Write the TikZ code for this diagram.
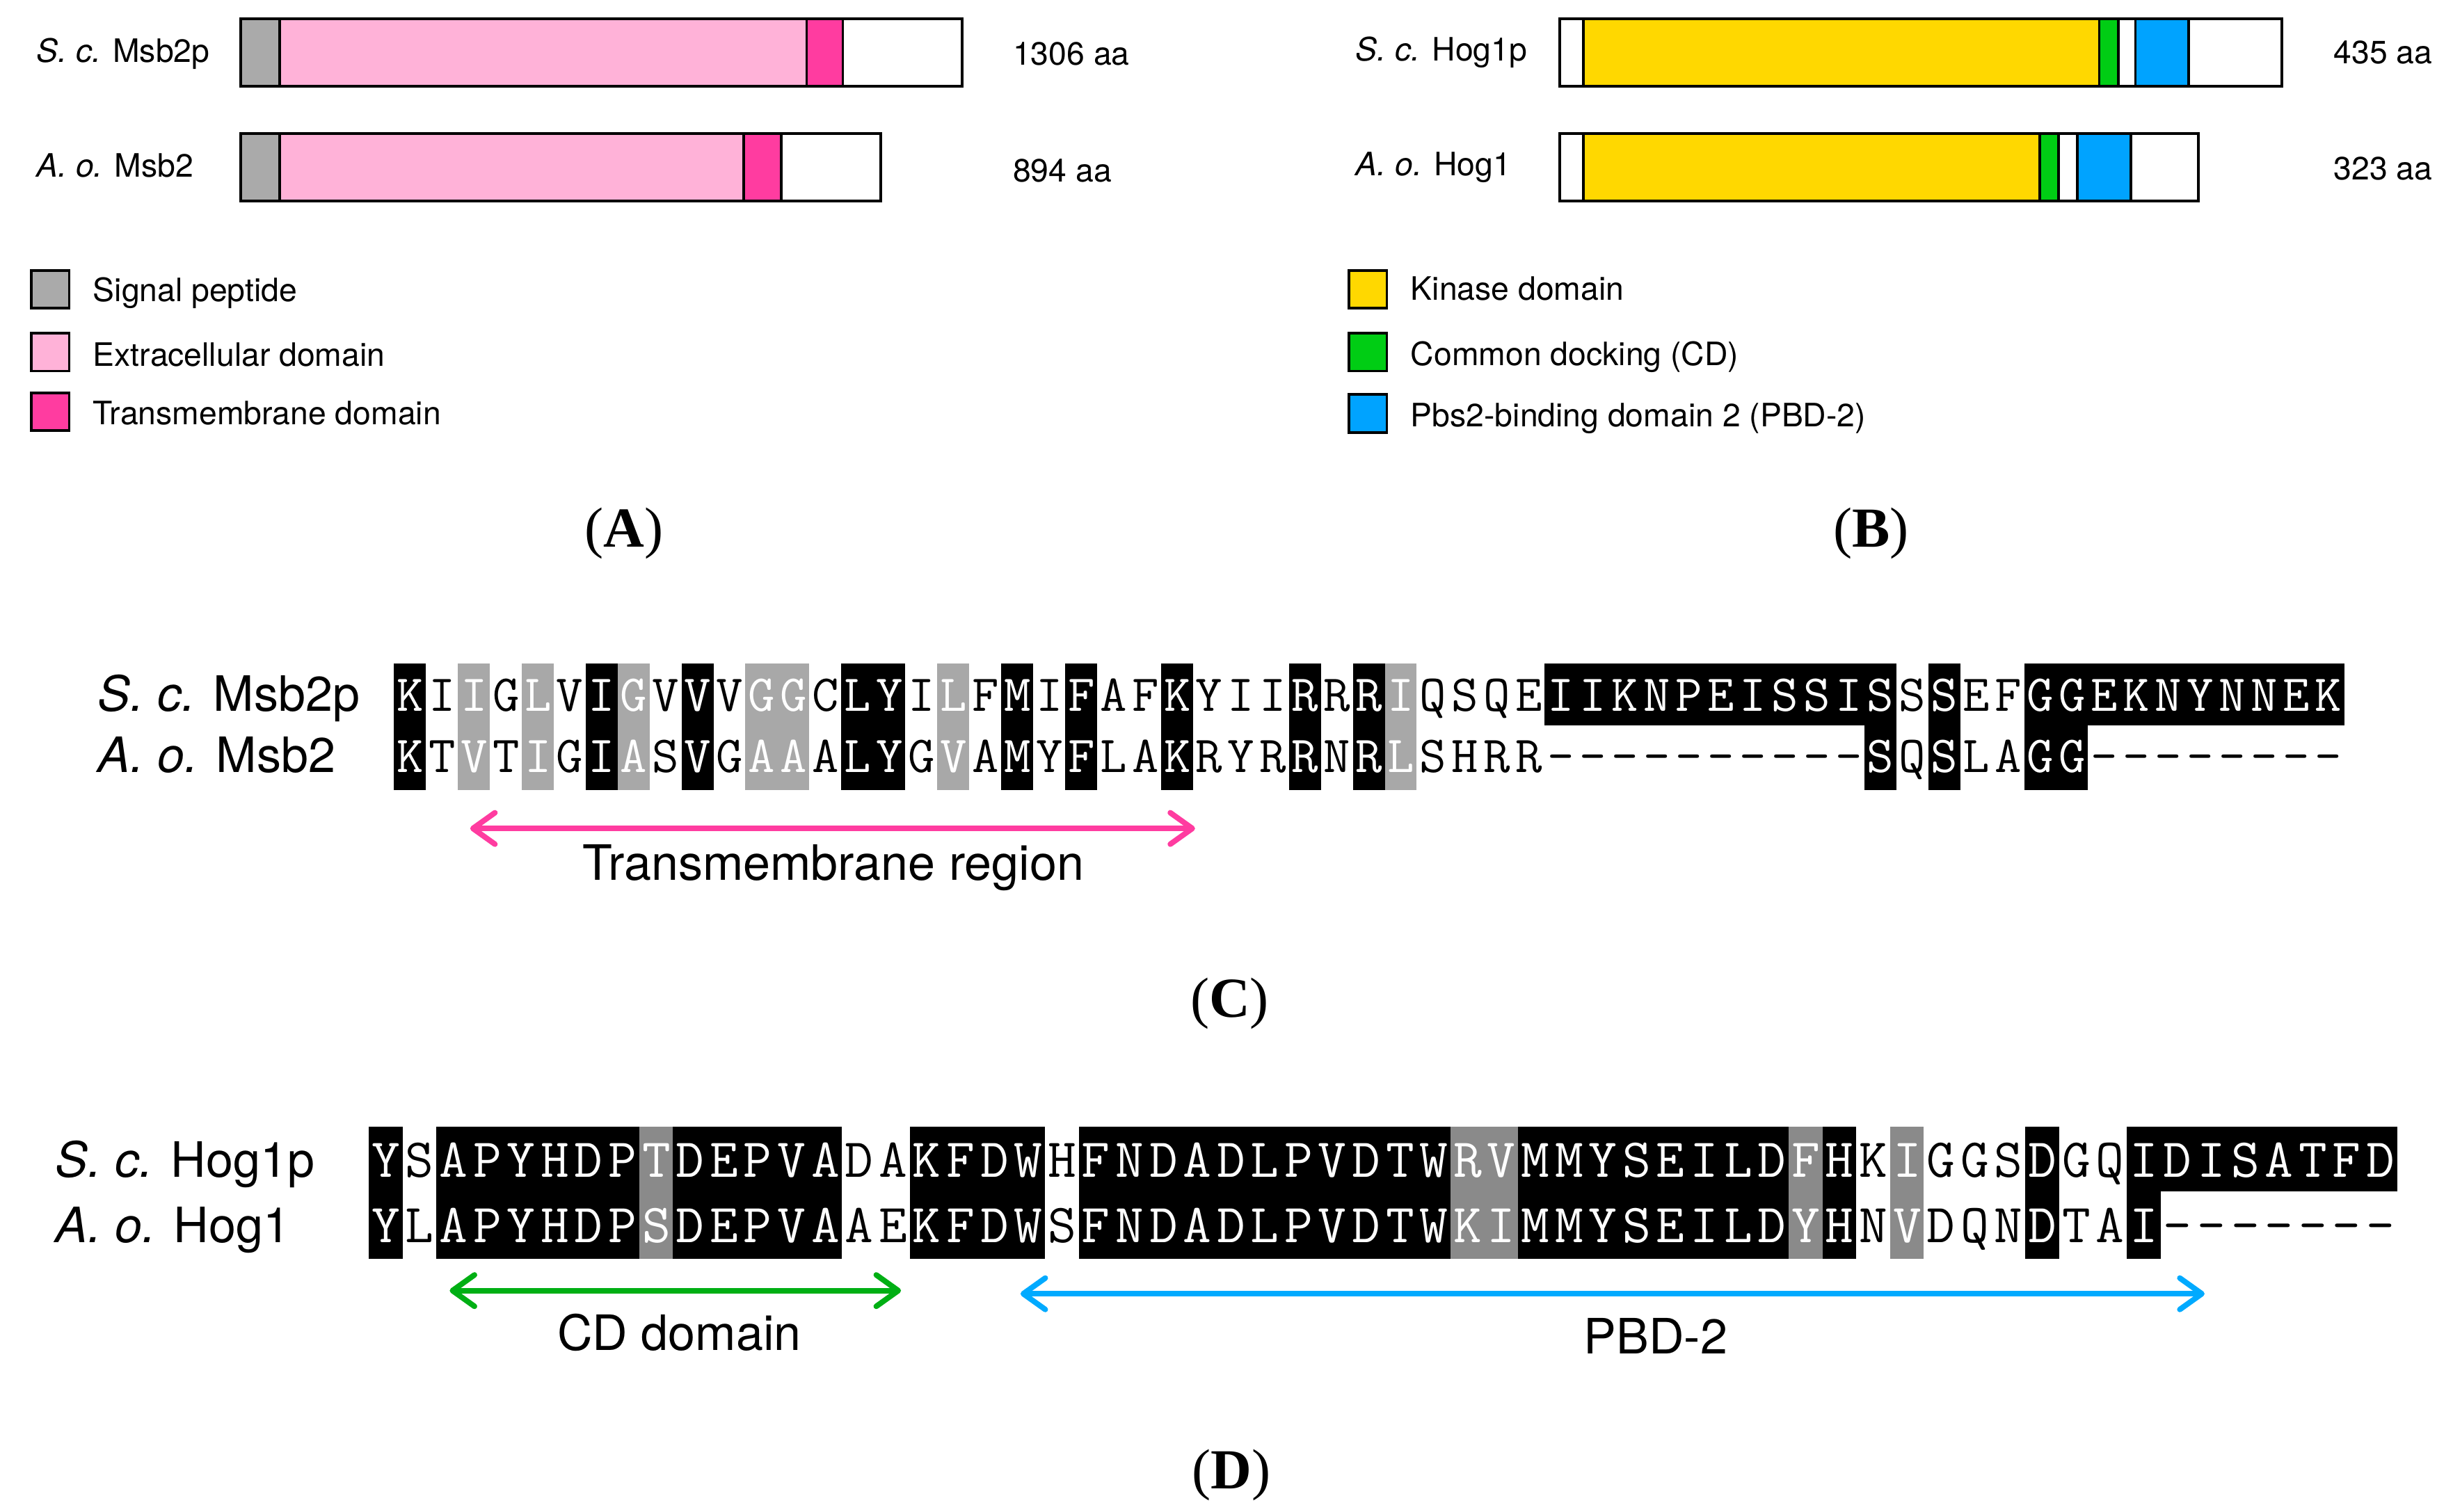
\documentclass[tikz,border=0pt]{standalone}
\usepackage{fontspec}
\setmainfont{TeX Gyre Heros}
\newfontfamily\serifpl{Liberation Serif}
\usetikzlibrary{arrows.meta}
\definecolor{sgray}{RGB}{170,170,170}
\definecolor{epink}{RGB}{255,178,216}
\definecolor{tmag}{RGB}{255,60,160}
\definecolor{kyel}{RGB}{255,216,0}
\definecolor{cdgreen}{RGB}{0,205,20}
\definecolor{pbdblue}{RGB}{0,163,255}
\definecolor{arrpink}{RGB}{255,60,160}
\definecolor{arrgreen}{RGB}{0,175,20}
\definecolor{arrblue}{RGB}{0,170,255}
\colorlet{fk}{black}
\colorlet{fg}{black!34}
\colorlet{fh}{black!46}
\colorlet{fw}{white}
\colorlet{tk}{white}
\colorlet{tg}{white}
\colorlet{th}{white}
\colorlet{tw}{black}
\begin{document}
\begin{tikzpicture}[x=1pt,y=-1pt,
  seg/.style={draw=black,line width=1.7pt},
  lgd/.style={draw=black,line width=1.7pt},
  small/.style={inner sep=0pt,anchor=base west,font=\fontsize{20.5}{24}\selectfont},
  big/.style={inner sep=0pt,anchor=base west,font=\fontsize{31}{36}\selectfont},
  captext/.style={inner sep=0pt,anchor=base,font=\fontsize{31}{36}\selectfont},
  seqC/.style={inner sep=0pt,anchor=base,font=\fontsize{33}{36}\ttfamily},
  seqD/.style={inner sep=0pt,anchor=base,font=\fontsize{35}{38}\ttfamily},
  plabel/.style={inner sep=0pt,anchor=base,font=\serifpl\fontsize{36}{40}\selectfont},
  >={Straight Barb[length=14pt,width=20pt,round]},
  span/.style={<->,line width=3.5pt}]
\useasboundingbox (0,0) rectangle (1560,961.8);

% ---------- Panel A ----------
\draw[seg,fill=sgray] (153,12) rectangle (178,55);
\draw[seg,fill=epink] (178,12) rectangle (513,55);
\draw[seg,fill=tmag] (513,12) rectangle (536,55);
\draw[seg,fill=white] (536,12) rectangle (612,55);
\draw[seg,fill=sgray] (153,85) rectangle (178,128);
\draw[seg,fill=epink] (178,85) rectangle (473,128);
\draw[seg,fill=tmag] (473,85) rectangle (497,128);
\draw[seg,fill=white] (497,85) rectangle (560,128);
\node[small] (a1) at (23,39.5) {\textit{S. c.} Msb2p};
\node[small] (a2) at (23,112.5) {\textit{A. o.} Msb2};
\node[small] (a1n) at (644,41.5) {1306 aa};
\node[small] (a2n) at (644,115.5) {894 aa};
\draw[lgd,fill=sgray] (20,172) rectangle (44,196);
\draw[lgd,fill=epink] (20,212) rectangle (44,236);
\draw[lgd,fill=tmag] (20,250) rectangle (44,274);
\node[small] (la1) at (59,192) {Signal peptide};
\node[small] (la2) at (59,233) {Extracellular domain};
\node[small] (la3) at (59,270) {Transmembrane domain};
\node[plabel] (pA) at (397,348) {(\textbf{A})};

% ---------- Panel B ----------
\draw[seg,fill=white] (992,12) rectangle (1007,55);
\draw[seg,fill=kyel] (1007,12) rectangle (1335,55);
\draw[seg,fill=cdgreen] (1335,12) rectangle (1347,55);
\draw[seg,fill=white] (1347,12) rectangle (1358,55);
\draw[seg,fill=pbdblue] (1358,12) rectangle (1392,55);
\draw[seg,fill=white] (1392,12) rectangle (1451,55);
\draw[seg,fill=white] (992,85) rectangle (1007,128);
\draw[seg,fill=kyel] (1007,85) rectangle (1297,128);
\draw[seg,fill=cdgreen] (1297,85) rectangle (1309,128);
\draw[seg,fill=white] (1309,85) rectangle (1321,128);
\draw[seg,fill=pbdblue] (1321,85) rectangle (1355,128);
\draw[seg,fill=white] (1355,85) rectangle (1398,128);
\node[small] (b1) at (862,38.5) {\textit{S. c.} Hog1p};
\node[small] (b2) at (862,111.5) {\textit{A. o.} Hog1};
\node[small] (b1n) at (1484,40.5) {435 aa};
\node[small] (b2n) at (1484,114.5) {323 aa};
\draw[lgd,fill=kyel] (858,172) rectangle (882,196);
\draw[lgd,fill=cdgreen] (858,212) rectangle (882,236);
\draw[lgd,fill=pbdblue] (858,251) rectangle (882,275);
\node[small] (lb1) at (897,191) {Kinase domain};
\node[small] (lb2) at (897,232.5) {Common docking (CD)};
\node[small] (lb3) at (897,271.5) {Pbs2-binding domain 2 (PBD-2)};
\node[plabel] (pB) at (1190,348) {(\textbf{B})};

% ---------- Panel C ----------
\node[big] (c1) at (62,452.5) {\textit{S. c.} Msb2p};
\node[big] (c2) at (62,491.5) {\textit{A. o.} Msb2};
\foreach \qa/\qb/\qs/\qu [count=\i] in {
K/K/k/k, I/T/w/w, I/V/g/g, G/T/w/w, L/I/g/g, V/G/w/w, I/I/k/k, G/A/g/g, V/S/w/w, V/V/k/k,
V/G/w/w, G/A/g/g, G/A/g/g, C/A/w/w, L/L/k/k, Y/Y/k/k, I/G/w/w, L/V/g/g, F/A/w/w, M/M/k/k,
I/Y/w/w, F/F/k/k, A/L/w/w, F/A/w/w, K/K/k/k, Y/R/w/w, I/Y/w/w, I/R/w/w, R/R/k/k, R/N/w/w,
R/R/k/k, I/L/g/g, Q/S/w/w, S/H/w/w, Q/R/w/w, E/R/w/w, I/-/k/w, I/-/k/w, K/-/k/w, N/-/k/w,
P/-/k/w, E/-/k/w, I/-/k/w, S/-/k/w, S/-/k/w, I/-/k/w, S/S/k/k, S/Q/w/w, S/S/k/k, E/L/w/w,
F/A/w/w, G/G/k/k, G/G/k/k, E/-/k/w, K/-/k/w, N/-/k/w, Y/-/k/w, N/-/k/w, N/-/k/w, E/-/k/w,
K/-/k/w}{
  \pgfmathsetmacro\xc{250.6+(\i-0.5)*20.33}
  \fill[fill=f\qs] (\xc-10.35,422.2) rectangle (\xc+10.35,461.9);
  \fill[fill=f\qu] (\xc-10.35,461.5) rectangle (\xc+10.35,502.5);
  \node[seqC,text=t\qs] (ct\i) at (\xc,452.5) {\qa};
  \node[seqC,text=t\qu] (cb\i) at (\xc,491.5) {\qb};
}
\coordinate (tmL) at (299,527);
\coordinate (tmR) at (760,527);
\draw[span,draw=arrpink] (tmL) -- (tmR);
\node[captext] (tmt) at (530,560) {Transmembrane region};
\node[plabel] (pC) at (782,647) {(\textbf{C})};

% ---------- Panel D ----------
\node[big] (d1) at (35,748.8) {\textit{S. c.} Hog1p};
\node[big] (d2) at (35,790.4) {\textit{A. o.} Hog1};
\foreach \qa/\qb/\qs/\qu [count=\i] in {
Y/Y/k/k, S/L/w/w, A/A/k/k, P/P/k/k, Y/Y/k/k, H/H/k/k, D/D/k/k, P/P/k/k, T/S/h/h, D/D/k/k,
E/E/k/k, P/P/k/k, V/V/k/k, A/A/k/k, D/A/w/w, A/E/w/w, K/K/k/k, F/F/k/k, D/D/k/k, W/W/k/k,
H/S/w/w, F/F/k/k, N/N/k/k, D/D/k/k, A/A/k/k, D/D/k/k, L/L/k/k, P/P/k/k, V/V/k/k, D/D/k/k,
T/T/k/k, W/W/k/k, R/K/h/h, V/I/h/h, M/M/k/k, M/M/k/k, Y/Y/k/k, S/S/k/k, E/E/k/k, I/I/k/k,
L/L/k/k, D/D/k/k, F/Y/h/h, H/H/k/k, K/N/w/w, I/V/h/h, G/D/w/w, G/Q/w/w, S/N/w/w, D/D/k/k,
G/T/w/w, Q/A/w/w, I/I/k/k, D/-/k/w, I/-/k/w, S/-/k/w, A/-/k/w, T/-/k/w, F/-/k/w, D/-/k/w}{
  \pgfmathsetmacro\xc{234.65+(\i-0.5)*21.5}
  \fill[fill=f\qs] (\xc-10.9,716.9) rectangle (\xc+10.9,758.3);
  \fill[fill=f\qu] (\xc-10.9,757.9) rectangle (\xc+10.9,800.6);
  \node[seqD,text=t\qs] (dt\i) at (\xc,748.8) {\qa};
  \node[seqD,text=t\qu] (db\i) at (\xc,790.4) {\qb};
}
\coordinate (cdL) at (286,821);
\coordinate (cdR) at (573,821);
\draw[span,draw=arrgreen] (cdL) -- (cdR);
\coordinate (pbL) at (649,823);
\coordinate (pbR) at (1402,823);
\draw[span,draw=arrblue] (pbL) -- (pbR);
\node[captext] (cdt) at (432,859) {CD domain};
\node[captext] (pbt) at (1053,861) {PBD-2};
\node[plabel] (pD) at (783,947) {(\textbf{D})};
\end{tikzpicture}
\end{document}
